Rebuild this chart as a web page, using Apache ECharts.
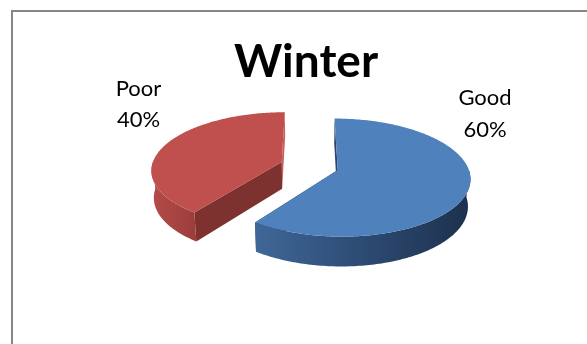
<!DOCTYPE html>
<html>
<head>
<meta charset="utf-8">
<script src="https://cdn.jsdelivr.net/npm/echarts@6/dist/echarts.min.js"></script>
<style>
  html, body { margin: 0; padding: 0; background: #fff; }
  #chart { width: 587px; height: 344px; }
</style>
</head>
<body>
<div id="chart"></div>
<script>
// Data
const chartTitle = 'Winter';
const categories = ['Good', 'Poor'];
const values = [60, 40];

// Geometry of the tilted, exploded pie (pixels)
const view = { cx: 309.5, cy: 193, radius: 128, depth: 30, explode: 29, dist: 914, tilt: 0.465 };

// Per-slice colours: top face, outer wall gradient, start/end cut faces
const sliceStyles = [
  { top: '#4F81BD', wall: ['#3F6797', '#2D4B73', '#1D304D'], startFace: '#2A4670', endFace: '#24395A' },
  { top: '#C0504D', wall: ['#B44B48', '#A84441', '#9C3D3A'], startFace: '#7E3230', endFace: '#C9605D' }
];

// Label block centres and text style
const labelSpots = [[485, 114], [138.5, 104.5]];

const total = values.reduce((a, b) => a + b, 0);
const startFractions = values.map((v, i) => values.slice(0, i).reduce((a, b) => a + b, 0) / total);

function project(X, Y, Z) {
  const s = view.tilt, c = Math.sqrt(1 - s * s);
  const w = view.dist + Y * c - Z * s;
  const k = view.dist / w;
  return [view.cx + X * k, view.cy + (-Y * s - Z * c) * k];
}

function renderSlice(params, api) {
  const i = params.dataIndex;
  const value = api.value(0);
  const TAU = Math.PI * 2;
  const a0 = startFractions[i] * TAU;
  const a1 = a0 + (value / total) * TAU;
  const mid = (a0 + a1) / 2;
  const ox = view.explode * Math.sin(mid);
  const oy = view.explode * Math.cos(mid);
  const R = view.radius, H = view.depth;
  const st = sliceStyles[i];

  const rim = (a, z) => project(ox + R * Math.sin(a), oy + R * Math.cos(a), z);
  const hub = (z) => project(ox, oy, z);
  const arc = (from, to, z) => {
    const n = Math.max(2, Math.ceil(Math.abs(to - from) / (Math.PI / 180)));
    const pts = [];
    for (let j = 0; j <= n; j++) pts.push(rim(from + (to - from) * j / n, z));
    return pts;
  };

  const children = [];
  // cut faces along the two radii
  [[a1, st.endFace], [a0, st.startFace]].forEach(([a, fill]) => {
    children.push({
      type: 'polygon',
      shape: { points: [hub(H), rim(a, H), rim(a, 0), hub(0)] },
      style: { fill: fill }
    });
  });
  // outer wall, front half only
  const w0 = Math.max(a0, Math.PI / 2), w1 = Math.min(a1, Math.PI * 1.5);
  if (w1 > w0) {
    const pts = arc(w0, w1, H).concat(arc(w1, w0, 0));
    children.push({
      type: 'polygon',
      shape: { points: pts },
      style: {
        fill: new echarts.graphic.LinearGradient(0, 0, 1, 0, [
          { offset: 0, color: st.wall[0] },
          { offset: 0.5, color: st.wall[1] },
          { offset: 1, color: st.wall[2] }
        ])
      }
    });
  }
  // top face
  children.push({
    type: 'polygon',
    shape: { points: [hub(H)].concat(arc(a0, a1, H)) },
    style: { fill: st.top }
  });
  // label
  const pct = Math.round(value / total * 100);
  children.push({
    type: 'text',
    x: labelSpots[i][0],
    y: labelSpots[i][1],
    style: {
      text: categories[i] + '\n' + pct + '%',
      font: '22px Lato',
      fill: '#000',
      align: 'center',
      verticalAlign: 'middle',
      lineHeight: 31.5
    }
  });
  return { type: 'group', children: children };
}

const chart = echarts.init(document.getElementById('chart'), null, { renderer: 'canvas' });
chart.setOption({
  animation: false,
  backgroundColor: '#fff',
  graphic: [
    {
      type: 'rect',
      shape: { x: 12, y: 11, width: 900, height: 600 },
      style: { fill: 'none', stroke: '#868686', lineWidth: 2 },
      silent: true
    },
    {
      type: 'text',
      x: 306,
      y: 62,
      style: {
        text: chartTitle,
        font: 'bold 46px Lato',
        fill: '#000',
        align: 'center',
        verticalAlign: 'middle'
      }
    }
  ],
  series: [{
    type: 'custom',
    coordinateSystem: 'none',
    silent: true,
    renderItem: renderSlice,
    data: values.map((v, i) => ({ name: categories[i], value: [v] }))
  }]
});
</script>
</body>
</html>
